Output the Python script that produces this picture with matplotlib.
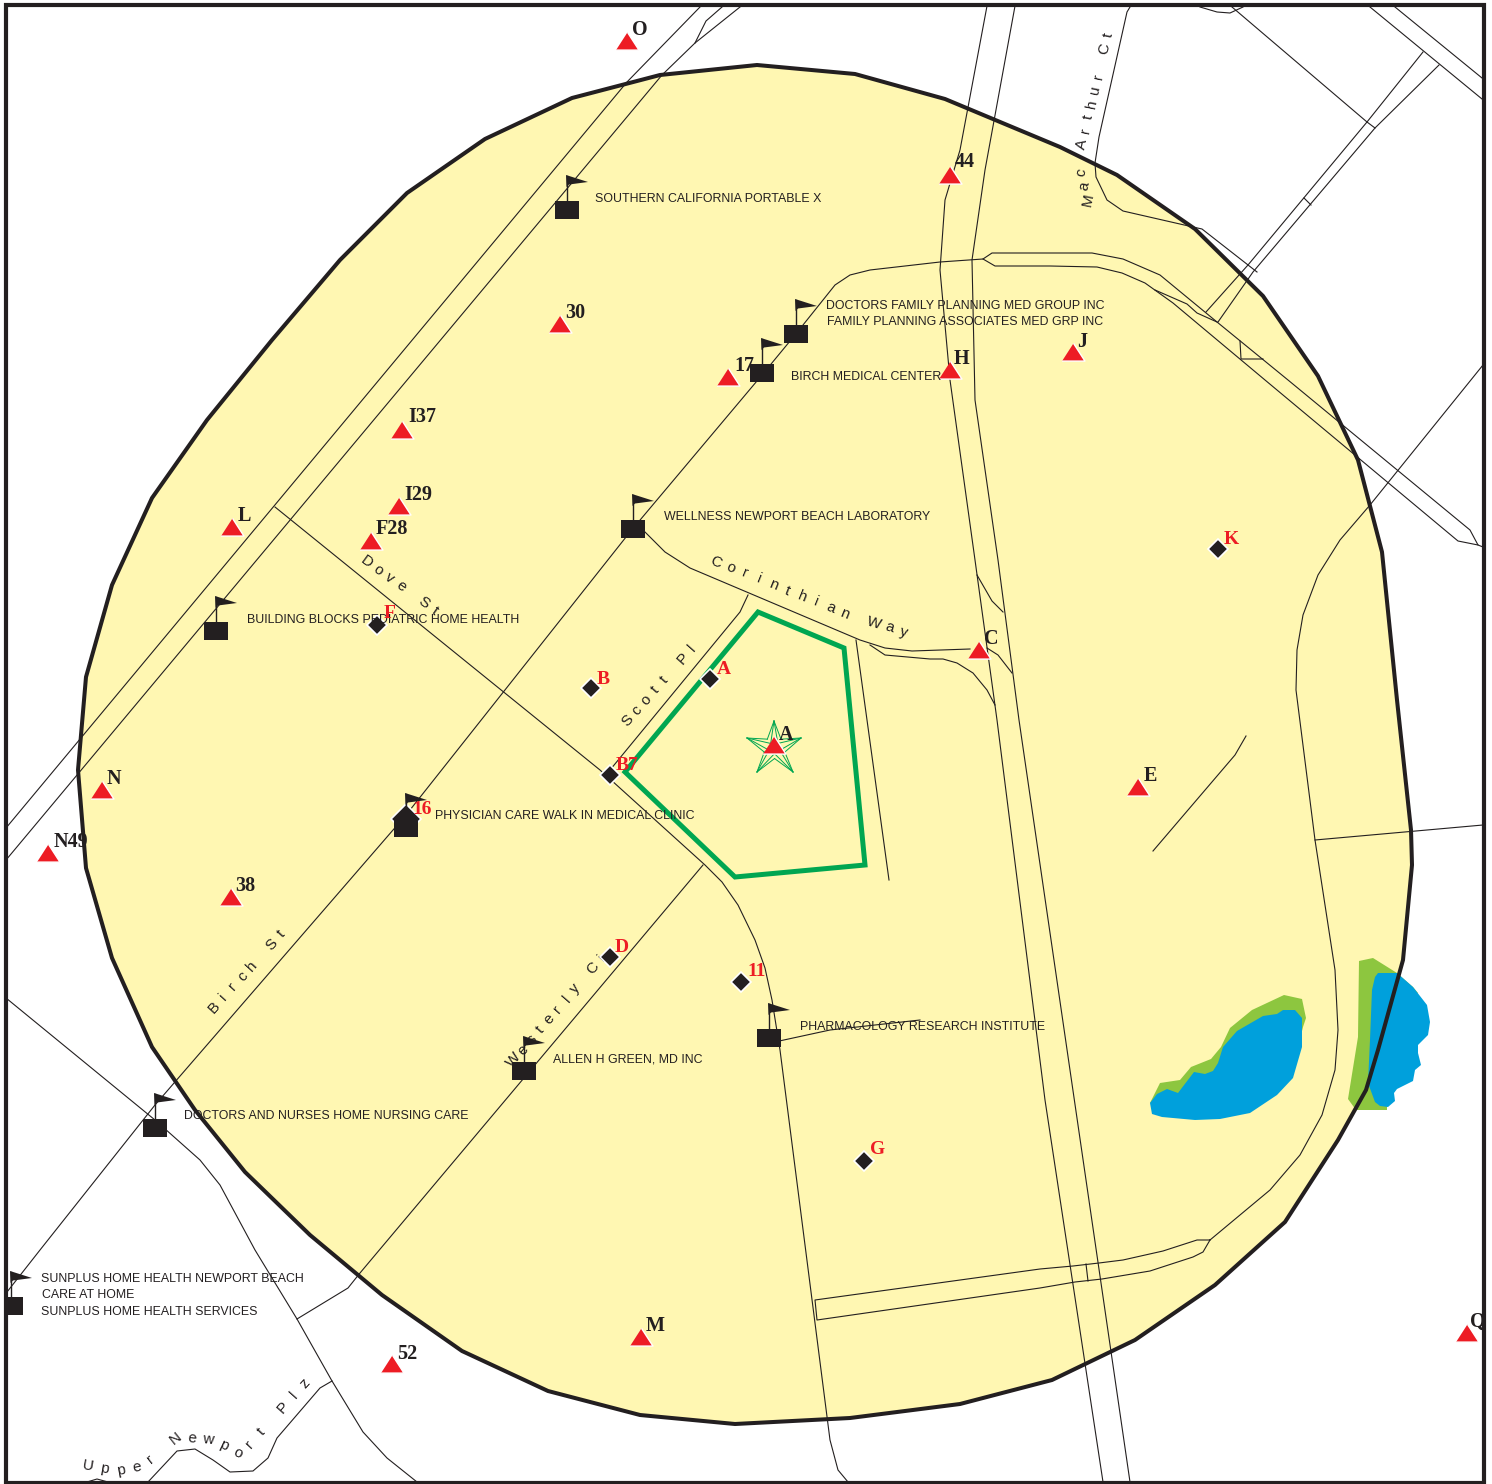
import numpy as np
import matplotlib
matplotlib.use("Agg")
import matplotlib.pyplot as plt
from matplotlib.patches import Polygon, Rectangle

BLACK = "#231F20"
RED = "#ED1C24"
SANS = "Liberation Sans"
SERIF = "Liberation Serif"

# ------------------ map outlines (picture pixels) ------------------
trade_area = [(757,65),(855,74),(945,99),(1060,147),(1117,175),(1195,229),(1263,296),(1318,376),
              (1358,460),(1382,552),(1397,700),(1411,830),(1412,865),(1403,960),(1378,1050),(1366,1090),
              (1338,1140),(1285,1222),(1215,1285),(1135,1340),(1052,1380),(960,1404),(850,1418),(735,1424),
              (640,1415),(548,1391),(462,1351),(382,1295),(310,1235),(245,1172),(195,1110),(152,1047),
              (112,958),(86,868),(78,770),(86,677),(112,585),(152,498),(207,420),(272,340),
              (340,260),(407,193),(485,139),(572,98),(660,75)]
site_area = [(758,612),(844,648),(865,865),(735,877),(625,772)]

lake1_shore = [(1150,1103),(1160,1083),(1180,1080),(1191,1067),(1211,1059),(1221,1047),(1230,1028),
               (1252,1010),(1284,995),(1302,999),(1306,1018),(1303,1027),(1295,1060),(1200,1100)]
lake1_water = [(1150,1103),(1157,1094),(1167,1089),(1178,1093),(1194,1072),(1205,1074),(1213,1071),
               (1218,1063),(1223,1047),(1237,1031),(1263,1016),(1277,1014),(1283,1010),(1295,1010),
               (1302,1018),(1302,1047),(1293,1078),(1277,1095),(1250,1113),(1220,1119),(1195,1120),
               (1162,1117),(1152,1114)]
lake2_shore = [(1359,961),(1373,958),(1397,973),(1413,987),(1418,993),(1370,1073),(1387,1103),
               (1387,1110),(1356,1110),(1348,1099),(1358,1037)]
lake2_water = [(1375,977),(1378,973),(1397,973),(1413,987),(1427,1005),(1430,1022),(1428,1035),
               (1418,1045),(1418,1053),(1421,1065),(1415,1070),(1413,1081),(1397,1089),(1394,1093),
               (1395,1101),(1388,1107),(1380,1106),(1375,1102),(1368,1083),(1370,1040),(1372,990)]

# ------------------ roads ------------------
roads = [
    [(700,7),(627,82),(6,828)],
    [(740,7),(695,43),(662,75),(6,860)],
    [(695,43),(706,21),(722,7)],
    [(7,1292),(40,1250),(155,1105),(406,815),(630,532),(762,375),(795,335),(835,285),(850,275),(870,270),(940,262),(983,259),(992,253),(1050,253),(1092,253),(1123,259),(1160,275),(1217,322),(1288,380),(1470,530),(1478,545),(1483,547)],
    [(983,259),(995,266),(1050,266),(1097,267),(1122,273),(1145,283),(1173,303),(1265,380),(1458,541),(1478,545)],
    [(1155,290),(1187,304),(1197,313),(1217,322)],
    [(1240,341),(1241,359),(1263,359)],
    [(275,507),(600,770),(705,865),(722,882),(738,905),(755,940),(765,968),(772,1000),(780,1050),(830,1440),(838,1470),(848,1482)],
    [(703,865),(360,1273),(348,1288),(297,1319)],
    [(770,1043),(830,1030),(920,1020)],
    [(645,532),(665,552),(690,568),(860,640),(885,648),(912,651),(970,649)],
    [(870,645),(885,655),(930,659),(943,659),(957,663),(973,673),(987,690),(995,705)],
    [(748,595),(740,612),(610,770)],
    [(856,640),(889,880)],
    [(987,6),(960,150),(945,200),(940,270),(950,380),(975,560),(997,720),(1045,1100),(1103,1482)],
    [(1015,6),(985,170),(972,260),(975,400),(998,560),(1019,720),(1130,1482)],
    [(977,575),(992,601),(1003,612)],
    [(987,648),(998,655),(1012,673)],
    [(1483,365),(1370,505),(1340,540),(1318,575),(1303,615),(1297,650),(1296,690),(1315,840),(1335,970),(1338,1030),(1335,1070),(1322,1115),(1300,1155),(1270,1190),(1210,1240),(1197,1240),(1163,1251),(1123,1260),(1099,1263),(1073,1266),(1040,1269),(815,1300),(817,1320),(1040,1288),(1075,1282),(1102,1279),(1150,1271),(1193,1257),(1203,1252),(1210,1240)],
    [(1086,1264),(1088,1281)],
    [(1315,840),(1483,825)],
    [(1153,851),(1235,755),(1246,736)],
    [(1130,7),(1127,12),(1099,137),(1095,163),(1096,177),(1107,200),(1123,211),(1193,227),(1202,229),(1257,272)],
    [(1423,52),(1367,122),(1248,265),(1206,312)],
    [(1439,65),(1375,128),(1253,272),(1218,322)],
    [(1367,122),(1375,128)],
    [(1304,198),(1311,205)],
    [(1370,7),(1482,99)],
    [(1395,7),(1482,78)],
    [(1232,7),(1367,122)],
    [(1200,7),(1217,12),(1230,13),(1243,7)],
    [(6,998),(155,1120),(200,1160),(220,1185),(255,1250),(297,1319),(332,1381),(363,1432),(387,1458),(417,1482)],
    [(332,1381),(320,1388),(277,1438),(268,1458),(253,1471),(230,1472),(213,1460),(195,1449),(177,1451),(148,1482)],
    [(87,1482),(97,1479),(108,1482)],
]

# ------------------ points ------------------
tri_x = [627,950,560,1073,950,728,402,399,232,371,979,774,1138,102,48,231,641,392,1467]
tri_y = [41,175,324,352,370,377,430,506,527,541,650,745,787,790,853,897,1337,1364,1333]
tri_names = ["O","44","30","J","H","17","I37","I29","L","F28","C","A","E","N","N49","38","M","52","Q"]
tri_name_x = [641,966,576,1083,963,745,423,419,245,393,992,787,1151,115,72,246,656,408,1479]
tri_name_y = [28,160,311,340,357,364,415,493,514,527,637,733,774,777,840,884,1324,1352,1320]

dia_x = [377,710,591,610,1218,610,741,864]
dia_y = [625,679,688,775,549,957,982,1161]
dia_names = ["F","A","B","B7","K","D","11","G","16"]
dia_name_x = [390,724,603,627,1231,622,757,878,422]
dia_name_y = [612,668,677,763,537,945,970,1148,807]
big_dia_x = [406]
big_dia_y = [819]

flag_x = [567,796,762,633,216,406,769,524,155,11]
flag_y = [210,334,373,529,631,828,1038,1071,1128,1306]

site_labels = ["SOUTHERN CALIFORNIA PORTABLE X","DOCTORS FAMILY PLANNING MED GROUP INC",
               "FAMILY PLANNING ASSOCIATES MED GRP INC","BIRCH MEDICAL CENTER",
               "WELLNESS NEWPORT BEACH LABORATORY","BUILDING BLOCKS PEDIATRIC HOME HEALTH",
               "PHYSICIAN CARE WALK IN MEDICAL CLINIC","PHARMACOLOGY RESEARCH INSTITUTE",
               "ALLEN H GREEN, MD INC","DOCTORS AND NURSES HOME NURSING CARE",
               "SUNPLUS HOME HEALTH NEWPORT BEACH","CARE AT HOME","SUNPLUS HOME HEALTH SERVICES"]
site_label_x = [595,826,827,791,664,247,435,800,553,184,41,42,41]
site_label_y = [198,305,321,376,516,619,815,1026,1059,1115,1278,1294,1311]

star_tips = [(774,721),(801,738),(793,772),(757,772),(747,738)]

# street name, path of the lettering, fixed rotation or None
streets = [
    ("Dove St", [(367,562),(435,611)], None),
    ("Corinthian Way", [(716,562),(850,616),(904,632)], None),
    ("Scott Pl", [(628,721),(692,648)], None),
    ("Birch St", [(214,1008),(281,934)], None),
    ("Westerly Ci", [(514,1060),(602,958)], None),
    ("Mac Arthur Ct", [(1088,200),(1081,170),(1080,153),(1087,123),(1098,80),(1108,35)], 78),
    ("Upper Newport Plz", [(88,1466),(118,1471),(140,1467),(178,1437),(211,1440),(241,1454),(265,1428),(305,1383)], None),
]


def street_text(ax, name, path, rot):
    # one letter at a time, evenly spaced along the path
    path = np.array(path, dtype=float)
    seg = np.hypot(*np.diff(path, axis=0).T)
    dist = np.r_[0, np.cumsum(seg)]
    for i, ch in enumerate(name):
        if ch == " ":
            continue
        d = dist[-1] * i / (len(name) - 1)
        x = np.interp(d, dist, path[:, 0])
        y = np.interp(d, dist, path[:, 1])
        k = min(np.searchsorted(dist, d, side="right") - 1, len(seg) - 1)
        dx, dy = path[k + 1] - path[k]
        angle = np.degrees(np.arctan2(-dy, dx)) if rot is None else rot
        ax.text(x, y, ch, fontsize=11, family=SANS, color=BLACK, rotation=angle,
                rotation_mode="anchor", ha="center", va="center", zorder=6)


fig = plt.figure(figsize=(14.92, 14.84), dpi=100)
ax = fig.add_axes([0, 0, 1, 1])
ax.set_xlim(0, 1492)
ax.set_ylim(1484, 0)
ax.axis("off")

ax.add_patch(Polygon(trade_area, closed=True, fc="#FFF7B2", ec="none", zorder=1))
ax.add_patch(Polygon(lake1_shore, closed=True, fc="#8DC63F", ec="none", zorder=2))
ax.add_patch(Polygon(lake2_shore, closed=True, fc="#8DC63F", ec="none", zorder=2))
ax.add_patch(Polygon(lake1_water, closed=True, fc="#00A0DC", ec="none", zorder=2))
ax.add_patch(Polygon(lake2_water, closed=True, fc="#00A0DC", ec="none", zorder=2))

for road in roads:
    rx, ry = zip(*road)
    ax.plot(rx, ry, color=BLACK, lw=0.8, zorder=3, solid_joinstyle="round")

ax.add_patch(Polygon(trade_area, closed=True, fc="none", ec=BLACK, lw=2.9, zorder=4))
ax.add_patch(Polygon(site_area, closed=True, fc="none", ec="#00A651", lw=3.6, zorder=5, joinstyle="miter"))

# star round the subject site
tips = np.array(star_tips, dtype=float)
mid = tips.mean(axis=0)
for i in range(5):
    for frac in (0.38, 0.2):
        for j in (2, 3):
            inner = mid + (tips[(i + j) % 5] - mid) * -frac
            ax.plot([tips[i, 0], inner[0]], [tips[i, 1], inner[1]], color="#00A651", lw=0.7, zorder=6)

for name, path, rot in streets:
    street_text(ax, name, path, rot)

ax.plot(big_dia_x, big_dia_y, ls="none", marker="D", ms=15, mfc=BLACK, mec="white", mew=1.2, zorder=7)

# flags
for fx, fy in zip(flag_x, flag_y):
    top = fy - 9
    ax.add_patch(Rectangle((fx - 12, top), 24, 18, fc=BLACK, ec="none", zorder=8))
    ax.plot([fx, fx], [top, top - 25], color=BLACK, lw=1.0, zorder=8)
    ax.add_patch(Polygon([(fx - 1, top - 26), (fx + 21, top - 19), (fx + 2, top - 16.5), (fx - 0.5, top - 14)],
                         closed=True, fc=BLACK, ec="none", zorder=8))

ax.plot(dia_x, dia_y, ls="none", marker="D", ms=10, mfc=BLACK, mec="white", mew=1.2, zorder=7)
triangle = [(-1, -0.75), (1, -0.75), (0, 0.8)]
ax.plot(tri_x, tri_y, ls="none", marker=triangle, ms=16.5, mfc=RED, mec="white", mew=1.0, zorder=9)

for x, y, s in zip(site_label_x, site_label_y, site_labels):
    ax.text(x, y + 1, s, fontsize=8.95, family=SANS, color=BLACK, ha="left", va="center", zorder=10)
for x, y, s in zip(tri_name_x, tri_name_y, tri_names):
    ax.text(x - 1, y + 2, s, fontsize=14.5, family=SERIF, weight="bold", color=BLACK, ha="center", va="center", zorder=11)
for x, y, s in zip(dia_name_x, dia_name_y, dia_names):
    ax.text(x, y + 2, s, fontsize=14, family=SERIF, weight="bold", color=RED, ha="center", va="center", zorder=11)

# white margin and frame
for rect in [(0, 0, 6, 1484), (1484, 0, 8, 1484), (0, 0, 1492, 5), (0, 1483, 1492, 1)]:
    ax.add_patch(Rectangle(rect[:2], rect[2], rect[3], fc="white", ec="none", zorder=20))
ax.add_patch(Rectangle((6, 5), 1478, 1478, fc="none", ec=BLACK, lw=3.0, zorder=21))

fig.savefig("out.png", dpi=100, facecolor="white")
